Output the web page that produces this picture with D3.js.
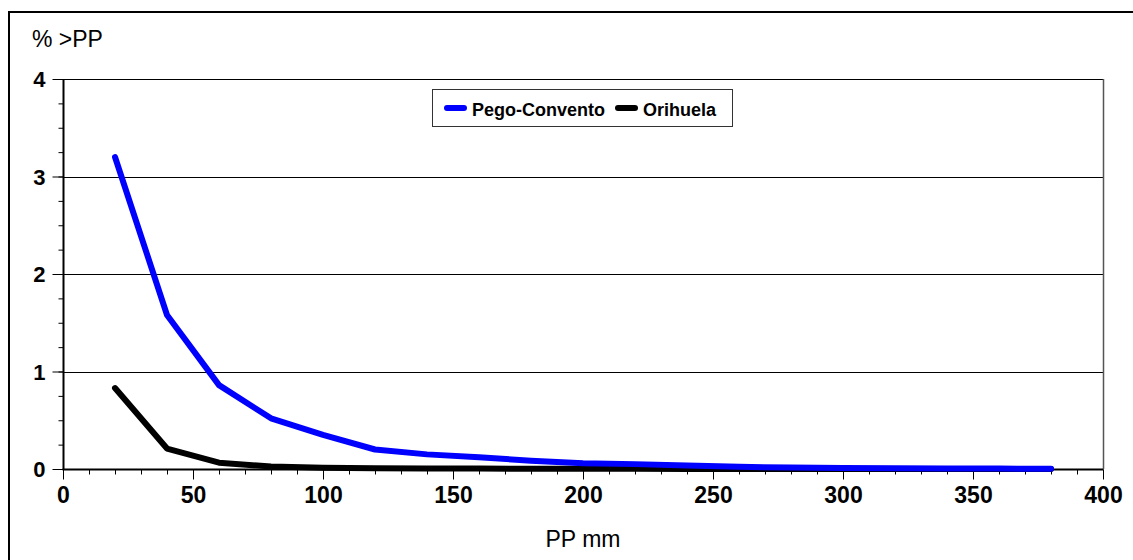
<!DOCTYPE html>
<html>
<head>
<meta charset="utf-8">
<script src="https://cdn.jsdelivr.net/npm/d3@7"></script>
<style>
  body { margin: 0; background: #fff; }
  svg { display: block; font-family: Arial, "Liberation Sans", sans-serif; }
</style>
</head>
<body>
<svg id="chart" width="1133" height="560"></svg>
<script>
// precipitation thresholds (mm)
const ppValues = [20, 40, 60, 80, 100, 120, 140, 160, 180, 200, 220, 240, 260, 280, 300, 320, 340, 360, 380];

// % of days exceeding each threshold
const pegoConvento = [3.2, 1.58, 0.86, 0.52, 0.35, 0.2, 0.15, 0.12, 0.085, 0.06, 0.05, 0.035, 0.022, 0.015, 0.01, 0.008, 0.005, 0.004, 0.003];
const orihuela = [0.83, 0.21, 0.065, 0.025, 0.012, 0.008, 0.005, 0.004, 0.003, 0.002, 0.002, 0.001, 0.001, 0.001, 0.001, 0.001, 0.001, 0.001, 0.001];

const seriesNames = ['Pego-Convento', 'Orihuela'];
const seriesColors = ['#0000ff', '#000000'];

const xTicks = [0, 50, 100, 150, 200, 250, 300, 350, 400];
const yTicks = [0, 1, 2, 3, 4];

const svg = d3.select('#chart');

const x = d3.scaleLinear().domain([0, 400]).range([63, 1103]);
const y = d3.scaleLinear().domain([0, 4]).range([469, 79]);

// outer frame
svg.append('rect')
    .attr('x', 9).attr('y', 12)
    .attr('width', 1140).attr('height', 560)
    .attr('fill', 'none')
    .attr('stroke', '#000')
    .attr('stroke-width', 2);

// grid lines
svg.append('g')
    .selectAll('line')
    .data(yTicks.filter(d => d > 0))
    .join('line')
    .attr('x1', x(0)).attr('x2', x(400))
    .attr('y1', d => Math.round(y(d)) + 0.5).attr('y2', d => Math.round(y(d)) + 0.5)
    .attr('stroke', '#000')
    .attr('stroke-width', 1);

// right side of plot
svg.append('line')
    .attr('x1', Math.round(x(400)) + 0.5).attr('x2', Math.round(x(400)) + 0.5)
    .attr('y1', y(4)).attr('y2', y(0))
    .attr('stroke', '#555')
    .attr('stroke-width', 1.5);

// minor ticks
const yAxisMinor = d3.axisLeft(y).tickValues(d3.range(0, 4.001, 0.25)).tickSize(5).tickFormat('');
const xAxisMinor = d3.axisBottom(x).tickValues(d3.range(0, 401, 10)).tickSize(5).tickFormat('');

svg.append('g')
    .attr('transform', `translate(${Math.round(x(0)) + 0.5},0)`)
    .call(yAxisMinor)
    .call(g => g.select('.domain').remove());
svg.append('g')
    .attr('transform', `translate(0,${Math.round(y(0)) + 0.5})`)
    .call(xAxisMinor)
    .call(g => g.select('.domain').remove());

// major axes
const yAxis = d3.axisLeft(y).tickValues(yTicks).tickSize(11).tickPadding(7).tickFormat(d3.format('d'));
const xAxis = d3.axisBottom(x).tickValues(xTicks).tickSize(10).tickPadding(7).tickFormat(d3.format('d'));

const gy = svg.append('g')
    .attr('transform', `translate(${Math.round(x(0)) + 0.5},0)`)
    .call(yAxis);
gy.select('.domain').attr('stroke-width', 2).attr('d', `M0,${y(4)}V${y(0)}`);

const gx = svg.append('g')
    .attr('transform', `translate(0,${Math.round(y(0)) + 0.5})`)
    .call(xAxis);
gx.select('.domain').attr('stroke-width', 2).attr('d', `M${x(0) - 0.5},0H${x(400)}`);

svg.selectAll('.tick text')
    .attr('font-family', 'Arial, "Liberation Sans", sans-serif')
    .attr('font-size', 23)
    .attr('font-weight', 'bold')
    .attr('fill', '#000');
gy.selectAll('.tick text').attr('font-size', 22).attr('dy', '0.36em');

// lines
const data = [pegoConvento, orihuela];
const line = d3.line()
    .x((d, i) => x(ppValues[i]))
    .y(d => y(d));

svg.append('g')
    .selectAll('path')
    .data(data.slice().reverse())
    .join('path')
    .attr('d', d => line(d))
    .attr('fill', 'none')
    .attr('stroke', (d, i) => seriesColors[1 - i])
    .attr('stroke-width', 6)
    .attr('stroke-linejoin', 'round')
    .attr('stroke-linecap', 'round');

// legend
const legend = svg.append('g');
legend.append('rect')
    .attr('x', 432.5).attr('y', 89.5)
    .attr('width', 300).attr('height', 37)
    .attr('fill', '#fff')
    .attr('stroke', '#333')
    .attr('stroke-width', 1);

const legendItems = [
    { name: seriesNames[0], color: seriesColors[0], lx: 447, tx: 472 },
    { name: seriesNames[1], color: seriesColors[1], lx: 618, tx: 643 }
];
legendItems.forEach(item => {
    legend.append('line')
        .attr('x1', item.lx).attr('x2', item.lx + 17)
        .attr('y1', 108).attr('y2', 108)
        .attr('stroke', item.color)
        .attr('stroke-width', 6)
        .attr('stroke-linecap', 'round');
    legend.append('text')
        .attr('x', item.tx).attr('y', 116)
        .attr('font-size', 18)
        .attr('font-weight', 'bold')
        .attr('fill', '#000')
        .text(item.name);
});

// axis titles
svg.append('text')
    .attr('x', 32).attr('y', 47)
    .attr('font-size', 23)
    .attr('fill', '#000')
    .text('% >PP');

svg.append('text')
    .attr('x', 583).attr('y', 547)
    .attr('text-anchor', 'middle')
    .attr('font-size', 23)
    .attr('fill', '#000')
    .text('PP mm');
</script>
</body>
</html>
